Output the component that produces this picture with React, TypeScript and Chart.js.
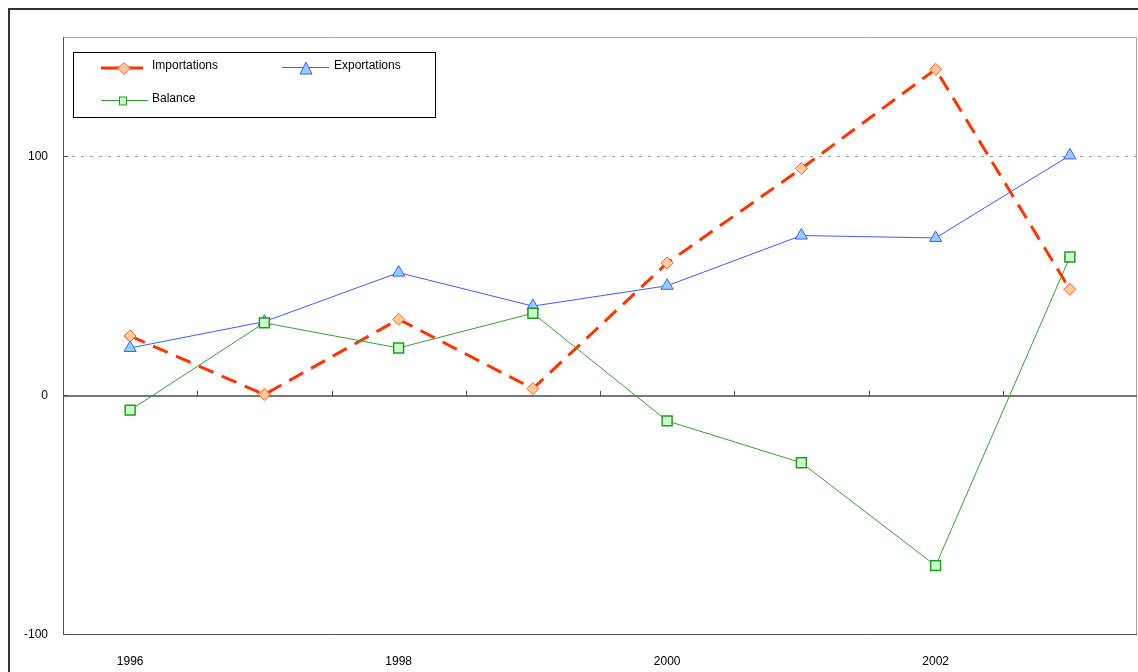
import React, { useEffect, useRef } from "react";
import { Chart, registerables } from "chart.js";

Chart.register(...registerables);

const years = ["1996", "1997", "1998", "1999", "2000", "2001", "2002", "2003"];
const shownYearLabels = ["1996", "1998", "2000", "2002"];
const yTickValues = [-100, 0, 100];
const importations = [25, 0.5, 32, 3, 55.5, 95, 136.5, 44.5];
const exportations = [20, 31, 51.5, 37.5, 46, 67, 66, 100.5];
const balance = [-6, 30.5, 20, 34.5, -10.5, -28, -71, 58];

const FONT = "'Liberation Sans', Arial, sans-serif";

const RED = "#FF3300";
const RED_FILL = "#FFCC99";
const RED_EDGE = "#FF5a33";
const BLUE = "#3b5cff";
const BLUE_FILL = "#99CCFF";
const GREEN = "#33A033";
const GREEN_FILL = "#CCFFCC";
const GREEN_EDGE = "#229922";

function line(ctx: CanvasRenderingContext2D, x1: number, y1: number, x2: number, y2: number) {
  ctx.beginPath();
  ctx.moveTo(x1, y1);
  ctx.lineTo(x2, y2);
  ctx.stroke();
}

const framePlugin = {
  id: "frame",
  beforeDatasetsDraw(chart: any) {
    const ctx: CanvasRenderingContext2D = chart.ctx;
    const { left, right, top, bottom } = chart.chartArea;
    const xs = chart.scales.x;
    const ys = chart.scales.y;
    ctx.save();
    ctx.lineWidth = 1;
    ctx.strokeStyle = "#a8a8a8";
    line(ctx, left, top + 0.5, right, top + 0.5);
    line(ctx, right - 0.5, top, right - 0.5, bottom);
    ctx.strokeStyle = "#505050";
    line(ctx, left + 0.5, top, left + 0.5, bottom);
    line(ctx, left, bottom - 0.5, right, bottom - 0.5);
    const y0 = Math.round(ys.getPixelForValue(0));
    ctx.lineWidth = 1.5;
    ctx.strokeStyle = "#4a4a4a";
    line(ctx, left, y0, right, y0);
    ctx.lineWidth = 1;
    for (let i = 1; i < years.length; i++) {
      const x = Math.round((xs.getPixelForValue(i - 1) + xs.getPixelForValue(i)) / 2) + 0.5;
      line(ctx, x, y0 - 5, x, y0);
    }
    for (const v of yTickValues) {
      const y = Math.round(ys.getPixelForValue(v)) - 0.5;
      line(ctx, left, y, left + 5, y);
    }
    ctx.restore();
  },
};

function diamond(ctx: CanvasRenderingContext2D, x: number, y: number, r: number) {
  ctx.beginPath();
  ctx.moveTo(x, y - r);
  ctx.lineTo(x + r, y);
  ctx.lineTo(x, y + r);
  ctx.lineTo(x - r, y);
  ctx.closePath();
  ctx.fillStyle = RED_FILL;
  ctx.fill();
  ctx.strokeStyle = RED_EDGE;
  ctx.lineWidth = 1;
  ctx.stroke();
}

function triangle(ctx: CanvasRenderingContext2D, x: number, y: number) {
  ctx.beginPath();
  ctx.moveTo(x, y - 7);
  ctx.lineTo(x + 6, y + 5);
  ctx.lineTo(x - 6, y + 5);
  ctx.closePath();
  ctx.fillStyle = BLUE_FILL;
  ctx.fill();
  ctx.strokeStyle = BLUE;
  ctx.lineWidth = 1;
  ctx.stroke();
}

function square(ctx: CanvasRenderingContext2D, x: number, y: number) {
  ctx.fillStyle = GREEN_FILL;
  ctx.fillRect(x - 3.5, y - 4, 7, 8);
  ctx.strokeStyle = GREEN_EDGE;
  ctx.lineWidth = 1;
  ctx.strokeRect(x - 3.5, y - 4, 7, 8);
}

const legendPlugin = {
  id: "boxLegend",
  afterDraw(chart: any) {
    const ctx: CanvasRenderingContext2D = chart.ctx;
    const names = chart.data.datasets.map((d: any) => d.label);
    ctx.save();
    ctx.fillStyle = "#fff";
    ctx.fillRect(73, 52, 362, 65);
    ctx.strokeStyle = "#000";
    ctx.lineWidth = 1;
    ctx.strokeRect(73.5, 52.5, 362, 65);

    // Importations
    ctx.strokeStyle = RED;
    ctx.lineWidth = 3;
    line(ctx, 101, 68, 143, 68);
    diamond(ctx, 124, 68.5, 6);
    // Exportations
    ctx.strokeStyle = BLUE;
    ctx.lineWidth = 1;
    line(ctx, 282, 67.5, 329, 67.5);
    triangle(ctx, 306, 69);
    // Balance
    ctx.strokeStyle = GREEN;
    ctx.lineWidth = 1;
    line(ctx, 101, 100.5, 148, 100.5);
    square(ctx, 123, 101);

    ctx.fillStyle = "#000";
    ctx.font = `12px ${FONT}`;
    ctx.textBaseline = "middle";
    ctx.textAlign = "left";
    ctx.fillText(names[0], 152, 66);
    ctx.fillText(names[1], 334, 66);
    ctx.fillText(names[2], 152, 99);
    ctx.restore();
  },
};

export default function App() {
  const canvasRef = useRef<HTMLCanvasElement | null>(null);

  useEffect(() => {
    document.body.style.overflow = "hidden";
    const canvas = canvasRef.current;
    if (!canvas) return;
    const chart = new Chart(canvas, {
      type: "line",
      data: {
        labels: years,
        datasets: [
          {
            label: "Importations",
            data: importations,
            borderColor: RED,
            borderWidth: 3,
            borderDash: [16, 9],
            pointStyle: "rectRot",
            pointRadius: 6,
            pointBackgroundColor: RED_FILL,
            pointBorderColor: RED_EDGE,
            pointBorderWidth: 1,
            tension: 0,
            order: 3,
          },
          {
            label: "Exportations",
            data: exportations,
            borderColor: BLUE,
            borderWidth: 1,
            pointStyle: "triangle",
            pointRadius: 7,
            pointBackgroundColor: BLUE_FILL,
            pointBorderColor: BLUE,
            pointBorderWidth: 1,
            tension: 0,
            order: 2,
          },
          {
            label: "Balance",
            data: balance,
            borderColor: GREEN,
            borderWidth: 1,
            pointStyle: "rect",
            pointRadius: 7,
            pointBackgroundColor: GREEN_FILL,
            pointBorderColor: GREEN_EDGE,
            pointBorderWidth: 1.5,
            tension: 0,
            order: 1,
          },
        ],
      },
      options: {
        responsive: false,
        animation: false,
        devicePixelRatio: 1,
        layout: { autoPadding: false, padding: { left: 0, top: 37, right: 1, bottom: 0 } },
        plugins: {
          legend: { display: false },
          title: { display: false },
          tooltip: { enabled: false },
        },
        scales: {
          x: {
            type: "category",
            offset: true,
            afterFit: (s: any) => {
              s.height = 37;
            },
            grid: { display: false, drawTicks: false },
            border: { display: false },
            ticks: {
              autoSkip: false,
              maxRotation: 0,
              padding: 19,
              color: "#000",
              font: { family: FONT, size: 12 },
              callback: (_v: any, i: number) =>
                shownYearLabels.includes(years[i]) ? years[i] : "",
            },
          },
          y: {
            min: -100,
            max: 150,
            afterFit: (s: any) => {
              s.width = 63;
            },
            afterBuildTicks: (s: any) => {
              s.ticks = yTickValues.map((v) => ({ value: v }));
            },
            grid: {
              drawTicks: false,
              color: (c: any) => (c.tick && c.tick.value === 100 ? "#9a9a9a" : "rgba(0,0,0,0)"),
              lineWidth: 1,
            },
            border: { display: false, dash: [3, 6] },
            ticks: {
              padding: 15,
              color: "#000",
              font: { family: FONT, size: 12 },
              stepSize: 100,
            },
          },
        },
      },
      plugins: [framePlugin, legendPlugin],
    } as any);
    return () => chart.destroy();
  }, []);

  return (
    <>
      <div
        style={{
          position: "absolute",
          left: 8,
          top: 8,
          width: 1128,
          height: 662,
          borderLeft: "2px solid #333",
          borderTop: "2px solid #333",
        }}
      />
      <canvas
        ref={canvasRef}
        width={1138}
        height={672}
        style={{ position: "absolute", left: 0, top: 0, width: 1138, height: 672 }}
      />
    </>
  );
}
